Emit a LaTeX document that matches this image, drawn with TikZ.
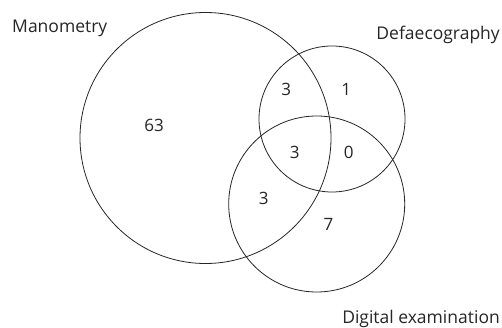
\documentclass[tikz,border=0pt]{standalone}
\usepackage{fontspec}
\setmainfont{Open Sans}
\begin{document}
\begin{tikzpicture}[x=1pt,y=-1pt,
  setline/.style={draw=black!85,line width=0.8pt},
  lbl/.style={inner sep=0pt,font=\fontsize{17.5}{20}\selectfont,text=black!85},
  num/.style={inner sep=0pt,anchor=base,font=\fontsize{17}{20}\selectfont,text=black!85}]
\useasboundingbox (0,0) rectangle (502,328);
\fill[white] (0,0) rectangle (502,328);
\draw[setline] (205.5,138) circle[radius=125.5] coordinate (mano);
\draw[setline] (332,119) circle[radius=73] coordinate (defa);
\draw[setline] (316.7,204) circle[radius=88] coordinate (digi);
\node[lbl,anchor=base west] (lmano) at (12,32.3) {Manometry};
\node[lbl,anchor=base east] (ldefa) at (500,40) {Defaecography};
\node[lbl,anchor=base east] (ldigi) at (500,323.5) {Digital examination};
\node[num] (n63) at (154,131.7) {63};
\node[num] (nmd) at (286.3,95.8) {3};
\node[num] (nd) at (346.3,95.8) {1};
\node[num] (nall) at (294.7,159) {3};
\node[num] (ndg) at (348.8,159) {0};
\node[num] (nmg) at (263.8,204.3) {3};
\node[num] (ng) at (328.5,230.3) {7};
\end{tikzpicture}
\end{document}
